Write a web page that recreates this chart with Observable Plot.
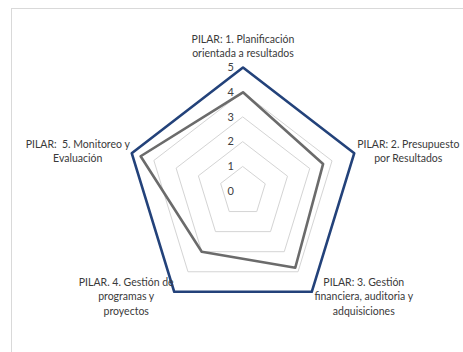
<!DOCTYPE html>
<html>
<head>
<meta charset="utf-8">
<script src="https://cdn.jsdelivr.net/npm/d3@7"></script>
<script src="https://cdn.jsdelivr.net/npm/@observablehq/plot@0.6"></script>
<style>
  html, body { margin: 0; padding: 0; background: #fff; overflow: hidden; }
  #wrap { position: relative; width: 463px; height: 352px; }
  #frame { position: absolute; left: 11px; top: 8px; width: 470px; height: 360px;
           border: 1px solid #d9d9d9; box-sizing: border-box; }
  #chart { position: absolute; left: 0; top: 0; }
  #chart text { white-space: pre; }
</style>
</head>
<body>
<div id="wrap">
  <div id="frame"></div>
  <div id="chart"></div>
</div>
<script>
// Pillar names (axes of the radar), clockwise from the top
const pillars = [
  "PILAR: 1. Planificación\norientada a resultados",
  "PILAR: 2. Presupuesto\npor Resultados",
  "PILAR: 3. Gestión\nfinanciera, auditoria y\nadquisiciones",
  "PILAR. 4. Gestión de\nprogramas y\nproyectos",
  "PILAR:  5. Monitoreo y\nEvaluación"
];
// Assessed score per pillar
const scores = [4.0, 3.6, 3.8, 3.0, 4.6];
// Maximum attainable score per pillar
const targets = [5, 5, 5, 5, 5];
// Radial scale
const gridLevels = [1, 2, 3, 4];
const tickLevels = [0, 1, 2, 3, 4, 5];

const n = pillars.length;
const angle = i => (i * 2 * Math.PI) / n;
const polar = (r, i) => ({ x: r * Math.sin(angle(i)), y: r * Math.cos(angle(i)) });

const scoreLine = scores.map((v, i) => ({ ...polar(v, i), series: "score" }));
const targetLine = targets.map((v, i) => ({ ...polar(v, i), series: "target" }));
const grid = gridLevels.flatMap(level =>
  pillars.map((_, i) => ({ ...polar(level, i), level }))
);
const ticks = tickLevels.map(t => ({ x: 0, y: t, label: String(t) }));

// Label placement around each outer vertex (pixel offsets)
const labelOffset = [
  { dx: 0, dy: -22 },
  { dx: 54, dy: -3 },
  { dx: 52, dy: 4 },
  { dx: -48, dy: 4 },
  { dx: -54, dy: -3 }
];
const labels = pillars.map((name, i) => ({ ...polar(5, i), name, ...labelOffset[i] }));

const font = "Lato, 'Open Sans', sans-serif";

const chart = Plot.plot({
  width: 463,
  height: 352,
  margin: 0,
  style: { fontFamily: font, background: "transparent", color: "#404040" },
  x: { domain: [-5, 5], range: [125.5, 359.5], axis: null },
  y: { domain: [-5, 5], range: [315, 67], axis: null },
  marks: [
    Plot.line(grid, { x: "x", y: "y", z: "level", curve: "linear-closed", stroke: "#d4d4d4", strokeWidth: 1 }),
    Plot.line(scoreLine, { x: "x", y: "y", curve: "linear-closed", stroke: "#6b6b6b", strokeWidth: 2.6 }),
    Plot.line(targetLine, { x: "x", y: "y", curve: "linear-closed", stroke: "#23427a", strokeWidth: 2.6 }),
    Plot.text(ticks, { x: "x", y: "y", text: "label", textAnchor: "end", dx: -9, fontSize: 11, fill: "#404040" }),
    ...labels.map(d => Plot.text([d], {
      x: "x", y: "y", text: "name", dx: d.dx, dy: d.dy,
      fontSize: 10.5, lineHeight: 1.36, textAnchor: "middle", fill: "#3a3a3a"
    }))
  ]
});
document.getElementById("chart").appendChild(chart);
</script>
</body>
</html>
